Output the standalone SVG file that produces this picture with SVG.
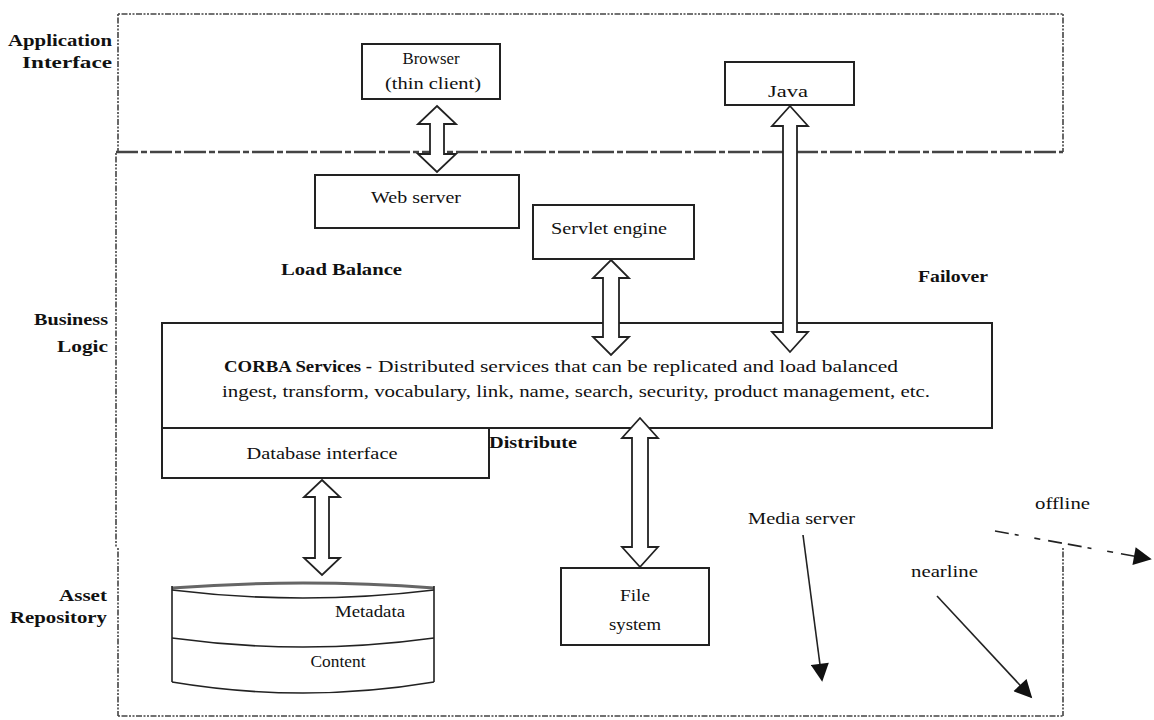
<svg xmlns="http://www.w3.org/2000/svg" width="1154" height="720" viewBox="0 0 1154 720">
<style>
  text { font-family: "Liberation Serif", "Times New Roman", serif; font-size: 17px; fill: #111; }
  .b { font-weight: bold; }
  .box { fill: #fff; stroke: #222; stroke-width: 2; }
  .dbl { fill: #fff; stroke: #222; stroke-width: 1.8; stroke-linejoin: miter; }
  .dot { fill: none; stroke: #444; stroke-width: 1.6; stroke-dasharray: 2 1.5 6 1.5 2 1.5; }
  .dashdot { fill: none; stroke: #444; stroke-width: 2.5; stroke-dasharray: 22 3 6 3; }
  .thin { fill: none; stroke: #222; stroke-width: 1.6; }
</style>
<defs>
  <marker id="triL" viewBox="0 0 10 10" refX="9" refY="5" markerWidth="20" markerHeight="18" markerUnits="userSpaceOnUse" orient="auto">
    <path d="M0,0 L10,5 L0,10 Z" fill="#111"/>
  </marker>
</defs>
<rect x="0" y="0" width="1154" height="720" fill="#fff"/>

<g id="regions">
  <path class="dot" d="M118,14 H1063"/>
  <path class="dot" d="M118,14 V152"/>
  <path class="dot" d="M1063,14 V152"/>
  <path class="dashdot" d="M116,152 H1063"/>
  <path class="dot" d="M116,153 V548"/>
  <path class="dot" d="M118,548 V716"/>
  <path class="dot" d="M118,716 H1063"/>
  <path class="dot" d="M1063,548 V716"/>
  <text class="b" x="112" y="46" text-anchor="end" textLength="104" lengthAdjust="spacingAndGlyphs">Application</text>
  <text class="b" x="112" y="68" text-anchor="end" textLength="90" lengthAdjust="spacingAndGlyphs">Interface</text>
  <text class="b" x="108" y="325" text-anchor="end" textLength="74" lengthAdjust="spacingAndGlyphs">Business</text>
  <text class="b" x="108" y="352" text-anchor="end" textLength="51" lengthAdjust="spacingAndGlyphs">Logic</text>
  <text class="b" x="107" y="601" text-anchor="end" textLength="48" lengthAdjust="spacingAndGlyphs">Asset</text>
  <text class="b" x="107" y="623" text-anchor="end" textLength="97" lengthAdjust="spacingAndGlyphs">Repository</text>
</g>

<g id="browser">
  <rect class="box" x="362" y="44" width="138" height="55"/>
  <text x="431" y="64" text-anchor="middle" textLength="57" lengthAdjust="spacingAndGlyphs">Browser</text>
  <text x="433" y="89" text-anchor="middle" textLength="96" lengthAdjust="spacingAndGlyphs">(thin client)</text>
</g>

<g id="java">
  <rect class="box" x="725" y="62" width="129" height="43"/>
  <text x="788" y="97" text-anchor="middle" textLength="40" lengthAdjust="spacingAndGlyphs">Java</text>
</g>

<g id="web-server">
  <rect class="box" x="315" y="175" width="204" height="53"/>
  <text x="416" y="203" text-anchor="middle" textLength="90" lengthAdjust="spacingAndGlyphs">Web server</text>
</g>

<g id="servlet-engine">
  <rect class="box" x="533" y="205" width="161" height="54"/>
  <text x="609" y="234" text-anchor="middle" textLength="116" lengthAdjust="spacingAndGlyphs">Servlet engine</text>
</g>

<g id="labels">
  <text class="b" x="281" y="275" textLength="121" lengthAdjust="spacingAndGlyphs">Load Balance</text>
  <text class="b" x="918" y="282" textLength="70" lengthAdjust="spacingAndGlyphs">Failover</text>
  <text x="748" y="524" textLength="107" lengthAdjust="spacingAndGlyphs">Media server</text>
  <text x="911" y="577" textLength="67" lengthAdjust="spacingAndGlyphs">nearline</text>
  <text x="1035" y="509" textLength="55" lengthAdjust="spacingAndGlyphs">offline</text>
</g>

<g id="corba-services">
  <rect class="box" x="162" y="323" width="830" height="105"/>
  <text class="b" x="224" y="372" textLength="148" lengthAdjust="spacingAndGlyphs">CORBA Services -</text>
  <text x="378" y="372" textLength="520" lengthAdjust="spacingAndGlyphs">Distributed services that can be replicated and load balanced</text>
  <text x="222" y="397" textLength="708" lengthAdjust="spacingAndGlyphs">ingest, transform, vocabulary, link, name, search, security, product management, etc.</text>
</g>

<g id="database-interface">
  <rect class="box" x="162" y="428" width="327" height="50"/>
  <text x="322" y="459" text-anchor="middle" textLength="151" lengthAdjust="spacingAndGlyphs">Database interface</text>
</g>

<g id="distribute-label">
  <text class="b" x="489" y="448" textLength="88" lengthAdjust="spacingAndGlyphs">Distribute</text>
</g>

<g id="file-system">
  <rect class="box" x="561" y="568" width="148" height="77"/>
  <text x="635" y="601" text-anchor="middle" textLength="30" lengthAdjust="spacingAndGlyphs">File</text>
  <text x="635" y="630" text-anchor="middle" textLength="52" lengthAdjust="spacingAndGlyphs">system</text>
</g>

<g id="repository">
  <path d="M172,588 Q303,578 434,588" fill="none" stroke="#666" stroke-width="3"/>
  <path class="thin" d="M172,590 Q303,606 434,590"/>
  <path class="thin" d="M172,586 V682 M434,586 V682"/>
  <path class="thin" d="M172,638 Q303,656 434,638"/>
  <path class="thin" d="M172,682 Q303,704 434,682"/>
  <text x="370" y="617" text-anchor="middle" textLength="70" lengthAdjust="spacingAndGlyphs">Metadata</text>
  <text x="338" y="667" text-anchor="middle" textLength="55" lengthAdjust="spacingAndGlyphs">Content</text>
</g>

<g id="connectors">
  <path class="dbl" d="M437,106 L456,124 L444,124 L444,154 L456,154 L437,172 L418,154 L430,154 L430,124 L418,124 Z"/>
  <path class="dbl" d="M611,260 L629,278 L619,278 L619,337 L629,337 L611,355 L593,337 L603,337 L603,278 L593,278 Z"/>
  <path class="dbl" d="M790,106 L808,126 L797,126 L797,332 L808,332 L790,352 L772,332 L783,332 L783,126 L772,126 Z"/>
  <path class="dbl" d="M640,418 L658,438 L648,438 L648,547 L658,547 L640,567 L622,547 L632,547 L632,438 L622,438 Z"/>
  <path class="dbl" d="M322,480 L340,497 L329,497 L329,558 L340,558 L322,575 L304,558 L315,558 L315,497 L304,497 Z"/>
  <path class="thin" d="M803,535 L822,680" marker-end="url(#triL)"/>
  <path class="thin" d="M937,596 L1031,697" marker-end="url(#triL)"/>
  <path class="thin" d="M995,531 L1150,559" stroke-dasharray="14 6 4 16 6 8 14 6" marker-end="url(#triL)"/>
</g>
</svg>
